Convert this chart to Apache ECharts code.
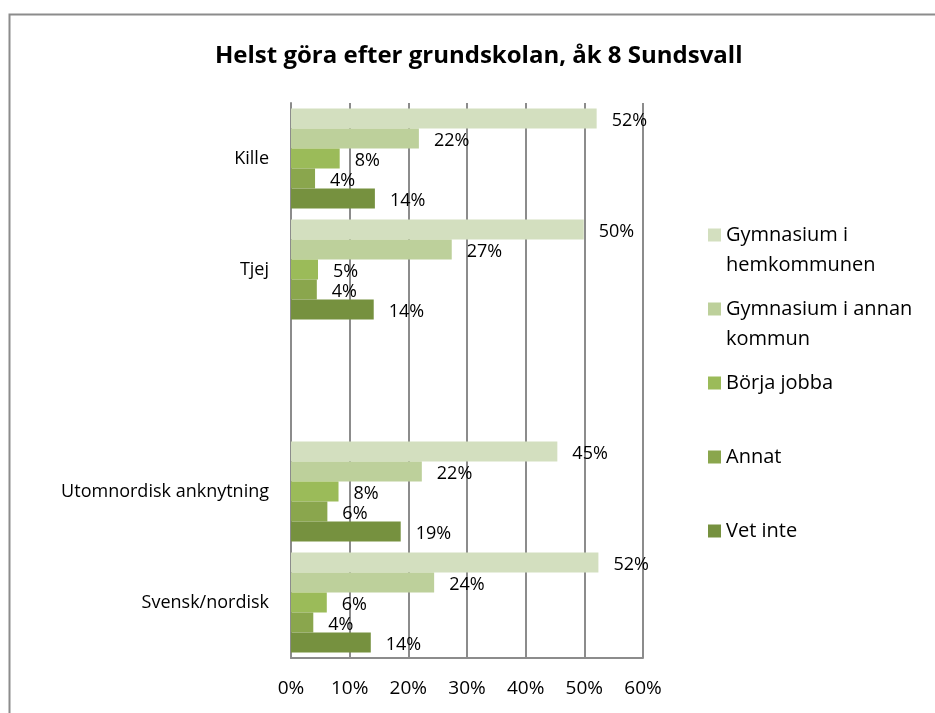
<!DOCTYPE html>
<html lang="sv">
<head>
  <meta charset="UTF-8">
  <title>Helst göra efter grundskolan</title>
  <script src="https://cdn.jsdelivr.net/npm/echarts@6/dist/echarts.min.js"></script>
  <style>
    html, body { margin: 0; padding: 0; background: #fff; }
  </style>
</head>
<body>
<div id="main" style="width: 935px;height:713px;"></div>
<script>
  // kategorier (tom rad mellan kön och bakgrund)
  var categories = ['Kille', 'Tjej', '', 'Utomnordisk anknytning', 'Svensk/nordisk'];
  var seriesNames = ['Gymnasium i hemkommunen', 'Gymnasium i annan kommun', 'Börja jobba', 'Annat', 'Vet inte'];
  var legendLabels = ['Gymnasium i\nhemkommunen', 'Gymnasium i annan\nkommun', 'Börja jobba', 'Annat', 'Vet inte'];
  var colors = ['#d3dfbf', '#bdd09b', '#9bbb59', '#8aa64d', '#76913f'];

  // värden i procent, avlästa från staplarna
  var gymHem   = [52.1, 49.9, null, 45.4, 52.4];
  var gymAnnan = [21.8, 27.4, null, 22.3, 24.4];
  var jobba    = [8.3,  4.6,  null, 8.1,  6.1];
  var annat    = [4.1,  4.4,  null, 6.2,  3.8];
  var vetInte  = [14.3, 14.1, null, 18.7, 13.6];
  var values = [gymHem, gymAnnan, jobba, annat, vetInte];

  var xTicks = [0, 10, 20, 30, 40, 50, 60];

  var font = '"Open Sans", sans-serif';
  var myChart = echarts.init(document.getElementById('main'));

  var series = seriesNames.map(function (name, i) {
    return {
      name: name,
      type: 'bar',
      barGap: '0%',
      barCategoryGap: '10%',
      itemStyle: { color: colors[i] },
      label: {
        show: true,
        position: 'right',
        distance: 15,
        offset: [0, 2],
        color: '#000',
        fontFamily: font,
        fontSize: 18,
        formatter: function (p) { return Math.round(p.value) + '%'; }
      },
      data: values[i]
    };
  });

  // en legend per post så att radavståndet blir jämnt som i originalet
  var legendCenters = [235, 309, 383, 457, 531];
  var lh = 30;
  var legends = seriesNames.map(function (name, i) {
    var twoLines = legendLabels[i].indexOf('\n') >= 0;
    return {
      orient: 'vertical',
      left: 708,
      top: legendCenters[i] - (twoLines ? lh * 1.5 : lh / 2),
      padding: 0,
      itemWidth: 13,
      itemHeight: 13,
      icon: 'rect',
      data: [name],
      // tom första rad: ikonen hamnar då i höjd med första textraden
      formatter: function () { return twoLines ? ' \n' + legendLabels[i] : legendLabels[i]; },
      textStyle: { fontFamily: font, fontSize: 20, color: '#000', lineHeight: lh }
    };
  });

  myChart.setOption({
    backgroundColor: '#fff',
    animation: false,
    title: {
      text: 'Helst göra efter grundskolan, åk 8 Sundsvall',
      left: 215,
      top: 44,
      padding: 0,
      textStyle: { fontFamily: font, fontSize: 24, fontWeight: 'bold', color: '#000' }
    },
    graphic: [{
      type: 'rect',
      shape: { x: 9.5, y: 14.5, width: 1000, height: 1000 },
      style: { fill: 'none', stroke: '#8c8c8c', lineWidth: 2 },
      silent: true
    }],
    legend: legends,
    grid: { left: 291, right: 292, top: 103, bottom: 55 },
    xAxis: {
      type: 'value',
      min: xTicks[0],
      max: xTicks[xTicks.length - 1],
      interval: 10,
      axisLine: { show: true, lineStyle: { color: '#8c8c8c', width: 2 } },
      axisTick: { show: false },
      splitLine: { show: true, lineStyle: { color: '#8c8c8c', width: 2 } },
      axisLabel: { formatter: '{value}%', color: '#000', fontFamily: font, fontSize: 19, margin: 21 }
    },
    yAxis: {
      type: 'category',
      inverse: true,
      data: categories,
      axisLine: { show: true, lineStyle: { color: '#8c8c8c', width: 2 } },
      axisTick: { show: false },
      axisLabel: { color: '#000', fontFamily: font, fontSize: 18, margin: 22 }
    },
    series: series
  });
</script>
</body>
</html>
